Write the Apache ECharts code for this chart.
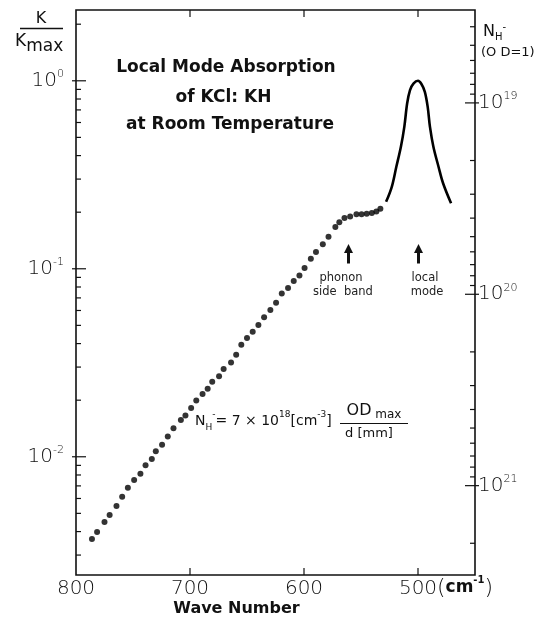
<!DOCTYPE html>
<html>
<head>
<meta charset="utf-8">
<script src="https://cdn.jsdelivr.net/npm/echarts@6/dist/echarts.min.js"></script>
<style>
  html, body { margin: 0; background: #fff; }
  #chart { width: 538px; height: 624px; }
</style>
</head>
<body>
<div id="chart"></div>
<script>
// measured points (wave number in cm^-1, K/Kmax)
const dotWave = [786, 781.5, 775, 770.5, 764.5, 759.5, 754.5, 749, 743.5, 739, 733.5, 730,
  724.5, 719.5, 714.5, 708, 704, 699, 694.5, 689, 684.5, 680.5, 674.5, 670.5, 664,
  659.5, 655, 650, 645, 640, 635, 629.5, 624.5, 619.5, 614, 609, 604, 599.5, 594,
  589.5, 583.5, 578.5, 572.5, 569, 564.5, 559.5, 554, 549.5, 545, 540.5, 536.5, 533];
const dotK = [0.00365, 0.00398, 0.0045, 0.0049, 0.00547, 0.00613, 0.00684, 0.00752, 0.00812,
  0.0090, 0.00972, 0.0107, 0.0116, 0.0128, 0.0142, 0.0157, 0.0166, 0.0182, 0.0199, 0.0216,
  0.0230, 0.0251, 0.0268, 0.0293, 0.0317, 0.0349, 0.0394, 0.0428, 0.0462, 0.0502, 0.0553,
  0.0603, 0.0659, 0.0738, 0.0791, 0.0862, 0.0920, 0.101, 0.113, 0.123, 0.135, 0.148,
  0.167, 0.177, 0.186, 0.190, 0.195, 0.195, 0.196, 0.198, 0.202, 0.2085];

// local mode band (solid curve)
const peakWave = [528, 523, 519, 515, 512, 509.5, 507, 504, 500, 497, 494, 491.5, 489.5, 486.5, 482, 478, 471];
const peakK = [0.227, 0.273, 0.349, 0.446, 0.569, 0.759, 0.892, 0.965, 1.0, 0.962, 0.874, 0.727, 0.569, 0.446, 0.349, 0.285, 0.223];

const waveRange = [450, 800];
const kRange = [0.00235, 2.38];
const nRange = [3.27e18, 2.93e21];
const waveTicks = [700, 600, 500];
const kTicks = [0.01, 0.1, 1];
const nTicks = [1e19, 1e20, 1e21];

const FONT = 'DejaVu Sans';
const INK = '#111';

function minorTicks(range) {
  const out = [];
  for (let e = Math.floor(Math.log10(range[0])); e <= Math.ceil(Math.log10(range[1])); e++) {
    for (let m = 2; m <= 9; m++) {
      const v = m * Math.pow(10, e);
      if (v > range[0] && v < range[1]) out.push(v);
    }
  }
  return out;
}

function powLabel(v) {
  const e = Math.log10(v);
  if (Math.abs(e - Math.round(e)) > 1e-6) return '';
  const n = Math.round(e);
  return '{b|10}{s|' + (n < 0 ? '-' + (-n) : n) + '}';
}

const labelRich = {
  b: { fontSize: 20, fontFamily: FONT, fontWeight: 200, color: INK, lineHeight: 24 },
  s: { fontSize: 11, fontFamily: FONT, fontWeight: 200, color: INK, lineHeight: 11, verticalAlign: 'top' }
};

let myChart = echarts.init(document.getElementById('chart'));

const option = {
  animation: false,
  grid: { left: 76, right: 63, top: 10, bottom: 49, outerBoundsMode: 'none' },
  xAxis: [
    {
      type: 'value', min: waveRange[0], max: waveRange[1], inverse: true, position: 'bottom',
      splitNumber: 4,
      axisLine: { show: false },
      axisTick: { show: false },
      splitLine: { show: false },
      axisLabel: {
        margin: 4, fontSize: 20, fontFamily: FONT, fontWeight: 200, color: INK,
        formatter: v => (v % 100 === 0 ? String(v) : '')
      }
    },
    {
      type: 'value', min: waveRange[0], max: waveRange[1], inverse: true, position: 'top',
      splitNumber: 4,
      axisLine: { show: false },
      axisTick: { show: false },
      splitLine: { show: false },
      axisLabel: { show: false }
    }
  ],
  yAxis: [
    {
      type: 'log', min: kRange[0], max: kRange[1], position: 'left',
      axisLine: { show: false },
      axisTick: { show: false },
      splitLine: { show: false },
      axisLabel: { margin: 12, interval: 0, formatter: powLabel, rich: labelRich }
    },
    {
      type: 'log', min: nRange[0], max: nRange[1], position: 'right', inverse: true,
      axisLine: { show: false },
      axisTick: { show: false },
      splitLine: { show: false },
      axisLabel: { margin: 3, interval: 0, formatter: powLabel, rich: labelRich }
    }
  ],
  series: [
    {
      type: 'scatter',
      data: dotWave.map((w, i) => [w, dotK[i]]),
      symbol: 'circle',
      symbolSize: 6,
      itemStyle: { color: '#000' },
      silent: true
    },
    {
      type: 'line',
      data: peakWave.map((w, i) => [w, peakK[i]]),
      smooth: 0.35,
      symbol: 'none',
      lineStyle: { color: '#000', width: 2.6 },
      silent: true
    }
  ]
};

myChart.setOption(option);

// frame and tick marks, placed through the chart's own scales
const px = (w, v, yi) => myChart.convertToPixel({ xAxisIndex: 0, yAxisIndex: yi }, [w, v]);
const tl = px(waveRange[1], kRange[1], 0);
const br = px(waveRange[0], kRange[0], 0);
const ticks = [];
function seg(x1, y1, x2, y2) {
  ticks.push({ type: 'line', silent: true, shape: { x1: x1, y1: y1, x2: x2, y2: y2 }, style: { stroke: INK, lineWidth: 1.2 } });
}
kTicks.forEach(v => { const p = px(waveRange[1], v, 0); seg(p[0] - 4, p[1], p[0] + 10, p[1]); });
minorTicks(kRange).forEach(v => { const p = px(waveRange[1], v, 0); seg(p[0], p[1], p[0] + 5, p[1]); });
nTicks.forEach(v => { const p = px(waveRange[0], v, 1); seg(p[0] - 10, p[1], p[0] + 4, p[1]); });
minorTicks(nRange).forEach(v => { const p = px(waveRange[0], v, 1); seg(p[0] - 5, p[1], p[0], p[1]); });
waveTicks.forEach(w => {
  const b = px(w, kRange[0], 0);
  seg(b[0], b[1], b[0], b[1] - 7);
  const t = px(w, kRange[1], 0);
  seg(t[0], t[1], t[0], t[1] + 7);
});

const texts = [
  // title
  { type: 'text', x: 226, y: 68, style: { text: 'Local Mode Absorption', font: 'bold 17px ' + FONT, fill: INK, textAlign: 'center', textVerticalAlign: 'middle' } },
  { type: 'text', x: 223.5, y: 98, style: { text: 'of KCl: KH', font: 'bold 17px ' + FONT, fill: INK, textAlign: 'center', textVerticalAlign: 'middle' } },
  { type: 'text', x: 230, y: 125, style: { text: 'at Room Temperature', font: 'bold 17px ' + FONT, fill: INK, textAlign: 'center', textVerticalAlign: 'middle' } },
  // left axis name K / Kmax
  { type: 'text', x: 41, y: 19, style: { text: 'K', font: '16px ' + FONT, fill: INK, textAlign: 'center', textVerticalAlign: 'middle' } },
  { type: 'line', shape: { x1: 20, y1: 28.5, x2: 63, y2: 28.5 }, style: { stroke: INK, lineWidth: 1.5 } },
  {
    type: 'text', x: 15, y: 44,
    style: {
      text: '{k|K}{m|max}', textVerticalAlign: 'middle',
      rich: {
        k: { fontSize: 17, fontFamily: FONT, fill: INK, lineHeight: 22, verticalAlign: 'top' },
        m: { fontSize: 17, fontFamily: FONT, fill: INK, lineHeight: 18, verticalAlign: 'bottom' }
      }
    }
  },
  // right axis name
  {
    type: 'text', x: 483, y: 32,
    style: {
      text: '{n|N}{h|H}{m|-}', textVerticalAlign: 'middle',
      rich: {
        n: { fontSize: 16, fontFamily: FONT, fill: INK, lineHeight: 20 },
        h: { fontSize: 10, fontFamily: FONT, fill: INK, lineHeight: 12, verticalAlign: 'bottom' },
        m: { fontSize: 10, fontFamily: FONT, fill: INK, lineHeight: 14, verticalAlign: 'top' }
      }
    }
  },
  { type: 'text', x: 481, y: 52.5, style: { text: '(O D=1)', font: '13px ' + FONT, fill: INK, textVerticalAlign: 'middle' } },
  // x axis name and unit
  { type: 'text', x: 236.5, y: 609, style: { text: 'Wave Number', font: 'bold 16px ' + FONT, fill: INK, textAlign: 'center', textVerticalAlign: 'middle' } },
  {
    type: 'text', x: 437, y: 588,
    style: {
      text: '{p|(}{c|cm}{s|-1}{p|)}', textVerticalAlign: 'middle',
      rich: {
        p: { fontSize: 22, fontFamily: FONT, fontWeight: 200, fill: INK, lineHeight: 26 },
        c: { fontSize: 17, fontFamily: FONT, fontWeight: 'bold', fill: INK, lineHeight: 26 },
        s: { fontSize: 10, fontFamily: FONT, fontWeight: 'bold', fill: INK, lineHeight: 16, verticalAlign: 'top' }
      }
    }
  },
  // arrows and annotations
  { type: 'polygon', shape: { points: [[348.5, 244], [353, 253], [344, 253]] }, style: { fill: INK } },
  { type: 'rect', shape: { x: 347, y: 252, width: 3, height: 11.5 }, style: { fill: INK } },
  { type: 'polygon', shape: { points: [[418.5, 244], [423, 253], [414, 253]] }, style: { fill: INK } },
  { type: 'rect', shape: { x: 417, y: 252, width: 3, height: 11.5 }, style: { fill: INK } },
  { type: 'text', x: 341, y: 278, style: { text: 'phonon', font: '11.5px ' + FONT, fill: '#222', textAlign: 'center', textVerticalAlign: 'middle' } },
  { type: 'text', x: 343, y: 292, style: { text: 'side  band', font: '11.5px ' + FONT, fill: '#222', textAlign: 'center', textVerticalAlign: 'middle' } },
  { type: 'text', x: 425, y: 278, style: { text: 'local', font: '11.5px ' + FONT, fill: '#222', textAlign: 'center', textVerticalAlign: 'middle' } },
  { type: 'text', x: 427, y: 292, style: { text: 'mode', font: '11.5px ' + FONT, fill: '#222', textAlign: 'center', textVerticalAlign: 'middle' } },
  // formula
  {
    type: 'text', x: 195, y: 421,
    style: {
      text: '{t|N}{sb|H}{sp|-}{t|= 7 × 10}{sp|18}{t|[cm}{sp|-3}{t|]}', textVerticalAlign: 'middle',
      rich: {
        t: { fontSize: 14, fontFamily: FONT, fill: INK, lineHeight: 22 },
        sb: { fontSize: 9, fontFamily: FONT, fill: INK, lineHeight: 10, verticalAlign: 'bottom' },
        sp: { fontSize: 9, fontFamily: FONT, fill: INK, lineHeight: 12, verticalAlign: 'top' }
      }
    }
  },
  {
    type: 'text', x: 374, y: 411,
    style: {
      text: '{o|OD}{m| max}', textAlign: 'center', textVerticalAlign: 'middle',
      rich: {
        o: { fontSize: 16, fontFamily: FONT, fill: INK, lineHeight: 20 },
        m: { fontSize: 12, fontFamily: FONT, fill: INK, lineHeight: 14, verticalAlign: 'bottom' }
      }
    }
  },
  { type: 'line', shape: { x1: 340, y1: 423.5, x2: 408, y2: 423.5 }, style: { stroke: INK, lineWidth: 1.2 } },
  { type: 'text', x: 369, y: 434, style: { text: 'd [mm]', font: '13px ' + FONT, fill: INK, textAlign: 'center', textVerticalAlign: 'middle' } }
];

const frame = { type: 'rect', silent: true, shape: { x: tl[0], y: tl[1], width: br[0] - tl[0], height: br[1] - tl[1] }, style: { fill: 'none', stroke: INK, lineWidth: 1.6 } };

myChart.setOption({ graphic: [frame].concat(ticks, texts) });
</script>
</body>
</html>
